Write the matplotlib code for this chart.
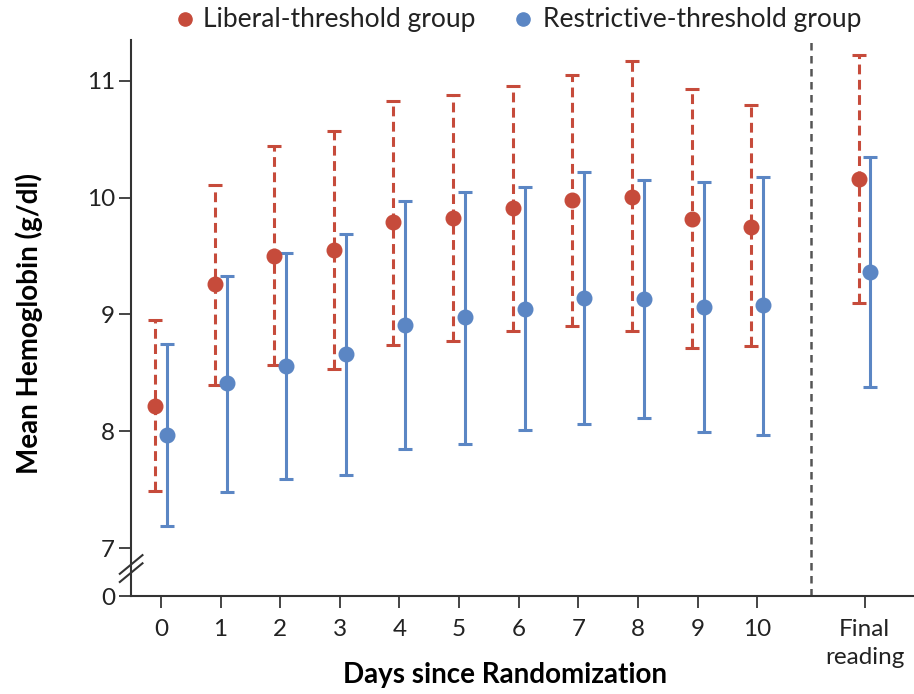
import matplotlib
matplotlib.use('Agg')
import matplotlib.pyplot as plt

days = ['0', '1', '2', '3', '4', '5', '6', '7', '8', '9', '10', 'Final\nreading']

lib_mean = [8.22, 9.26, 9.50, 9.55, 9.79, 9.83, 9.91, 9.98, 10.01, 9.82, 9.75, 10.16]
lib_hi = [8.95, 10.11, 10.44, 10.57, 10.83, 10.88, 10.96, 11.05, 11.17, 10.93, 10.79, 11.22]
lib_lo = [7.49, 8.40, 8.57, 8.53, 8.74, 8.77, 8.86, 8.90, 8.86, 8.71, 8.73, 9.10]

res_mean = [7.97, 8.41, 8.56, 8.66, 8.91, 8.98, 9.05, 9.14, 9.13, 9.06, 9.08, 9.36]
res_hi = [8.75, 9.33, 9.53, 9.69, 9.97, 10.05, 10.09, 10.22, 10.15, 10.13, 10.18, 10.35]
res_lo = [7.19, 7.48, 7.59, 7.63, 7.85, 7.89, 8.01, 8.06, 8.11, 7.99, 7.97, 8.38]

RED = '#c64b3b'
BLUE = '#5b86c4'
plt.rcParams['font.family'] = ['Lato', 'DejaVu Sans']

# x positions: days 0..10, then the final reading further right
xpos = list(range(11)) + [11.8]
ZERO = 6.59  # where the broken axis puts 0

fig = plt.figure(figsize=(9.14, 6.94), dpi=100)
ax = fig.add_axes([0.1433, 0.1412, 0.8567, 0.8012])

xl = [x - 0.1 for x in xpos]
xr = [x + 0.1 for x in xpos]
err_l = [[m - lo for m, lo in zip(lib_mean, lib_lo)], [hi - m for m, hi in zip(lib_mean, lib_hi)]]
err_r = [[m - lo for m, lo in zip(res_mean, res_lo)], [hi - m for m, hi in zip(res_mean, res_hi)]]

el = ax.errorbar(xl, lib_mean, yerr=err_l, fmt='o', color=RED, ms=10.5, elinewidth=2.2,
                 capsize=5, capthick=2.2, zorder=3)
el[2][0].set_linestyle((0, (3.2, 1.8)))
er = ax.errorbar(xr, res_mean, yerr=err_r, fmt='o', color=BLUE, ms=10.5, elinewidth=2.2,
                 capsize=5, capthick=2.2, zorder=3)

ax.axvline(10.9, color='#555555', lw=1.8, ls=(0, (3, 2.2)))

ax.set_xlim(-0.503, 12.63)
ax.set_ylim(ZERO, 11.35)
ax.set_xticks(xpos)
ax.set_xticklabels(days, fontsize=17.5, linespacing=1.4)
ax.set_yticks([ZERO, 7, 8, 9, 10, 11])
ax.set_yticklabels(['0', '7', '8', '9', '10', '11'], fontsize=17.5)
ax.tick_params(axis='both', length=8.5, width=1.4, color='#444444', labelcolor='#222222')
ax.tick_params(axis='x', pad=8)
ax.tick_params(axis='y', pad=3)
for s in ['top', 'right']:
    ax.spines[s].set_visible(False)
for s in ['left', 'bottom']:
    ax.spines[s].set_linewidth(1.5)
    ax.spines[s].set_color('#333333')

# axis break marks
for yb in [6.79, 6.86]:
    ax.plot([-0.69, -0.31], [yb - 0.08, yb + 0.08], color='#333333', lw=1.5, clip_on=False, zorder=5)

ax.set_xlabel('Days since Randomization', fontsize=20, fontweight='bold')
ax.xaxis.set_label_coords(0.478, -0.118)
ax.set_ylabel('Mean Hemoglobin (g/dl)', fontsize=20, fontweight='bold')
ax.yaxis.set_label_coords(-0.112, 0.49)

# legend
fig.add_artist(plt.Line2D([0.2025], [0.972], marker='o', ms=9.5, color=RED, transform=fig.transFigure))
fig.text(0.222, 0.972, 'Liberal-threshold group', color='#222222', fontsize=19, va='center')
fig.add_artist(plt.Line2D([0.5725], [0.972], marker='o', ms=9.5, color=BLUE, transform=fig.transFigure))
fig.text(0.594, 0.972, 'Restrictive-threshold group', color='#222222', fontsize=19, va='center')

plt.savefig('out.png', dpi=100)
